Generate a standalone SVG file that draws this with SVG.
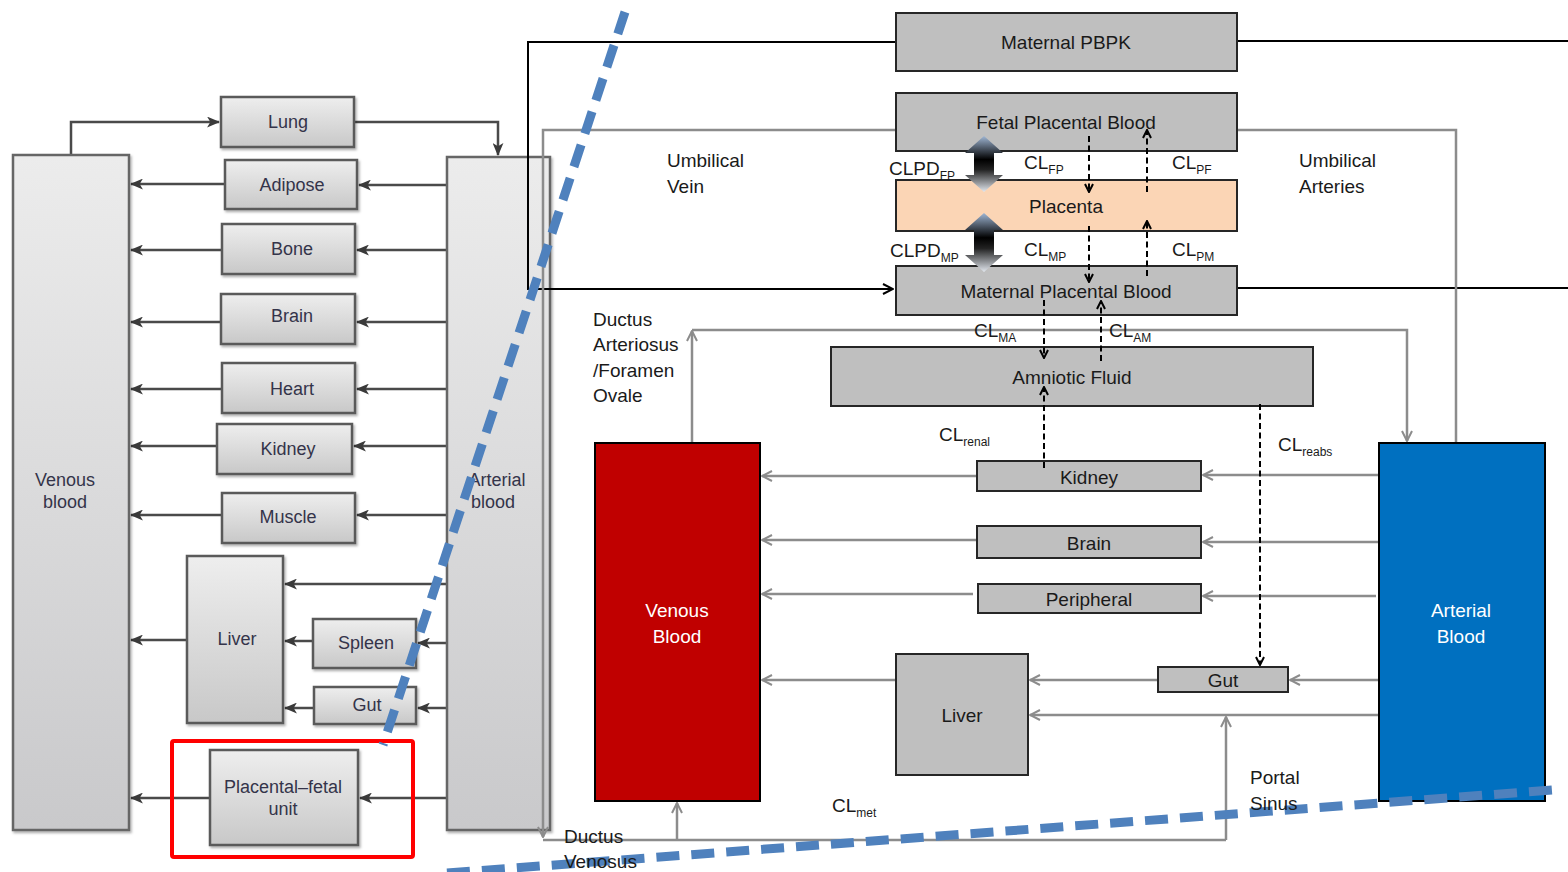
<svg xmlns="http://www.w3.org/2000/svg" width="1568" height="872" viewBox="0 0 1568 872">
<style>
.lt{font-family:"Liberation Sans",Arial,sans-serif;font-size:18px;fill:#34344a;text-anchor:middle}
.lbox{fill:url(#lg);stroke:#5a5a5a;stroke-width:2.5;filter:url(#sh)}
.lbig{fill:url(#lg2);stroke:#666;stroke-width:2.5;filter:url(#sh)}
.lc{fill:none;stroke:#4a4a4a;stroke-width:2.5;marker-end:url(#al)}
.rt{font-family:"Liberation Sans",Arial,sans-serif;font-size:19px;fill:#1a1a1a}
.rc{text-anchor:middle}
.rbox{fill:#bfbfbf;stroke:#262626;stroke-width:2}
.gc{fill:none;stroke:#8c8c8c;stroke-width:2.5;marker-end:url(#ag)}
.gl{fill:none;stroke:#8c8c8c;stroke-width:2.5}
.bc{fill:none;stroke:#000;stroke-width:2}
.dc{fill:none;stroke:#000;stroke-width:2;stroke-dasharray:6 3.5;marker-end:url(#ad)}
.blue{fill:none;stroke:#4f81bd;stroke-width:9;stroke-dasharray:23 12}
.sub{font-size:12px}
</style>
<defs>
<linearGradient id="lg" x1="0" y1="0" x2="0" y2="1"><stop offset="0" stop-color="#eeeeee"/><stop offset="1" stop-color="#c8c8c8"/></linearGradient>
<linearGradient id="lg2" x1="0" y1="0" x2="0" y2="1"><stop offset="0" stop-color="#ececec"/><stop offset="1" stop-color="#c9c9cb"/></linearGradient>
<linearGradient id="ba" x1="0" y1="0" x2="0" y2="1"><stop offset="0" stop-color="#9fb6d4"/><stop offset="0.42" stop-color="#000"/><stop offset="0.6" stop-color="#222"/><stop offset="1" stop-color="#e3e8ef"/></linearGradient>
<filter id="sh" x="-10%" y="-10%" width="130%" height="130%"><feDropShadow dx="1.5" dy="2" stdDeviation="1.2" flood-color="#000" flood-opacity="0.3"/></filter>
<marker id="al" viewBox="0 0 12 10" refX="11" refY="5" markerWidth="13" markerHeight="11" markerUnits="userSpaceOnUse" orient="auto"><path d="M0,0 L12,5 L0,10 L3,5 Z" fill="#3a3a3a"/></marker>
<marker id="ag" viewBox="0 0 12 12" refX="11" refY="6" markerWidth="12" markerHeight="12" markerUnits="userSpaceOnUse" orient="auto"><path d="M1,1 L11,6 L1,11" fill="none" stroke="#8c8c8c" stroke-width="2"/></marker>
<marker id="ab" viewBox="0 0 12 12" refX="11" refY="6" markerWidth="12" markerHeight="12" markerUnits="userSpaceOnUse" orient="auto"><path d="M1,1 L11,6 L1,11" fill="none" stroke="#000" stroke-width="2"/></marker>
<marker id="ad" viewBox="0 0 10 10" refX="9" refY="5" markerWidth="10" markerHeight="10" markerUnits="userSpaceOnUse" orient="auto"><path d="M1,1 L9,5 L1,9" fill="none" stroke="#000" stroke-width="2"/></marker>
</defs>
<rect x="0" y="0" width="1568" height="872" fill="#fff"/>

<!-- LEFT DIAGRAM -->
<g id="left-connectors">
<path class="lc" d="M71,155 V122 H219"/>
<path class="lc" d="M354,122 H498 V155"/>
<path class="lc" d="M447,185 H359"/><path class="lc" d="M225,184 H131"/>
<path class="lc" d="M447,250 H357"/><path class="lc" d="M222,250 H131"/>
<path class="lc" d="M447,322 H357"/><path class="lc" d="M221,322 H131"/>
<path class="lc" d="M447,389 H357"/><path class="lc" d="M222,389 H131"/>
<path class="lc" d="M447,446 H354"/><path class="lc" d="M217,446 H131"/>
<path class="lc" d="M447,515 H357"/><path class="lc" d="M222,515 H131"/>
<path class="lc" d="M447,584 H285"/>
<path class="lc" d="M447,643 H418"/><path class="lc" d="M313,641 H285"/>
<path class="lc" d="M447,708 H418"/><path class="lc" d="M314,708 H285"/>
<path class="lc" d="M187,640 H131"/>
<path class="lc" d="M447,798 H360"/><path class="lc" d="M210,798 H131"/>
</g>
<g id="l-venous"><rect class="lbig" x="13" y="155" width="116" height="675"/><text class="lt" x="65" y="486">Venous</text><text class="lt" x="65" y="508">blood</text></g>
<g id="l-arterial"><rect class="lbig" x="447" y="157" width="103" height="673"/><text class="lt" x="497" y="486">Arterial</text><text class="lt" x="493" y="508">blood</text></g>
<g id="l-lung"><rect class="lbox" x="221" y="97" width="133" height="50"/><text class="lt" x="288" y="128">Lung</text></g>
<g id="l-adipose"><rect class="lbox" x="225" y="160" width="132" height="49"/><text class="lt" x="292" y="191">Adipose</text></g>
<g id="l-bone"><rect class="lbox" x="222" y="224" width="133" height="50"/><text class="lt" x="292" y="255">Bone</text></g>
<g id="l-brain"><rect class="lbox" x="221" y="294" width="134" height="50"/><text class="lt" x="292" y="322">Brain</text></g>
<g id="l-heart"><rect class="lbox" x="222" y="363" width="133" height="50"/><text class="lt" x="292" y="395">Heart</text></g>
<g id="l-kidney"><rect class="lbox" x="217" y="424" width="135" height="50"/><text class="lt" x="288" y="455">Kidney</text></g>
<g id="l-muscle"><rect class="lbox" x="222" y="493" width="133" height="50"/><text class="lt" x="288" y="523">Muscle</text></g>
<g id="l-liver"><rect class="lbox" x="187" y="556" width="96" height="167"/><text class="lt" x="237" y="645">Liver</text></g>
<g id="l-spleen"><rect class="lbox" x="313" y="619" width="103" height="49"/><text class="lt" x="366" y="649">Spleen</text></g>
<g id="l-gut"><rect class="lbox" x="314" y="687" width="102" height="37"/><text class="lt" x="367" y="711">Gut</text></g>
<g id="l-placental"><rect class="lbox" x="210" y="750" width="148" height="95"/><text class="lt" x="283" y="793">Placental–fetal</text><text class="lt" x="283" y="815">unit</text></g>
<rect x="172" y="741" width="241" height="116" rx="2" fill="none" stroke="#ff0000" stroke-width="4"/>

<!-- RIGHT DIAGRAM CONNECTORS (solid) -->
<g id="connectors">
<path class="bc" d="M896,42 H528 V289 H893" marker-end="url(#ab)"/>
<path class="bc" d="M1237,41 H1568"/>
<path class="bc" d="M1237,288 H1568"/>
<path class="gc" d="M896,130 H543 V837"/>
<path class="gl" d="M543,840 H1226"/>
<path class="gc" d="M1226,840 V717"/>
<path class="gc" d="M677,840 V803"/>
<path class="gl" d="M1237,130 H1456 V443"/>
<path class="gc" d="M692,443 V331"/>
<path class="gc" d="M692,330 H1407 V441"/>
<path class="gc" d="M1379,475 H1203"/><path class="gc" d="M977,476 H762"/>
<path class="gc" d="M1379,542 H1203"/><path class="gc" d="M977,540 H762"/>
<path class="gc" d="M1376,596 H1203"/><path class="gc" d="M973,594 H762"/>
<path class="gc" d="M1379,680 H1290"/><path class="gc" d="M1158,680 H1030"/><path class="gc" d="M896,680 H762"/>
<path class="gc" d="M1379,715 H1030"/>
</g>

<!-- RIGHT DIAGRAM NODES -->
<g id="maternal-pbpk"><rect class="rbox" x="896" y="13" width="341" height="58"/><text class="rt rc" x="1066" y="49">Maternal PBPK</text></g>
<g id="fetal-placental-blood"><rect class="rbox" x="896" y="93" width="341" height="58"/><text class="rt rc" x="1066" y="129">Fetal Placental Blood</text></g>
<g id="placenta"><rect x="896" y="180" width="341" height="51" fill="#fbd5b5" stroke="#262626" stroke-width="2"/><text class="rt rc" x="1066" y="213">Placenta</text></g>
<g id="maternal-placental-blood"><rect class="rbox" x="896" y="266" width="341" height="49"/><text class="rt rc" x="1066" y="298">Maternal Placental Blood</text></g>
<g id="amniotic-fluid"><rect class="rbox" x="831" y="347" width="482" height="59"/><text class="rt rc" x="1072" y="384">Amniotic Fluid</text></g>
<g id="venous-blood"><rect x="595" y="443" width="165" height="358" fill="#c00000" stroke="#000" stroke-width="2"/><text class="rt rc" x="677" y="617" style="fill:#fff">Venous</text><text class="rt rc" x="677" y="643" style="fill:#fff">Blood</text></g>
<g id="arterial-blood"><rect x="1379" y="443" width="166" height="358" fill="#0070c0" stroke="#000" stroke-width="2"/><text class="rt rc" x="1461" y="617" style="fill:#fff">Arterial</text><text class="rt rc" x="1461" y="643" style="fill:#fff">Blood</text></g>
<g id="kidney"><rect class="rbox" x="977" y="461" width="224" height="30"/><text class="rt rc" x="1089" y="484">Kidney</text></g>
<g id="brain"><rect class="rbox" x="977" y="526" width="224" height="32"/><text class="rt rc" x="1089" y="550">Brain</text></g>
<g id="peripheral"><rect class="rbox" x="978" y="584" width="223" height="29"/><text class="rt rc" x="1089" y="606">Peripheral</text></g>
<g id="liver"><rect class="rbox" x="896" y="654" width="132" height="121"/><text class="rt rc" x="962" y="722">Liver</text></g>
<g id="gut"><rect class="rbox" x="1158" y="667" width="130" height="25"/><text class="rt rc" x="1223" y="687">Gut</text></g>

<!-- RIGHT DIAGRAM CONNECTORS (clearance, drawn over nodes) -->
<g id="clearance-connectors">
<path class="dc" d="M1089,136 V192"/>
<path class="dc" d="M1147,192 V130"/>
<path class="dc" d="M1089,226 V282"/>
<path class="dc" d="M1147,276 V221"/>
<path class="dc" d="M1044,300 V358"/>
<path class="dc" d="M1101,361 V301"/>
<path class="dc" d="M1044,468 V387"/>
<path class="dc" d="M1260,404 V665"/>
<path d="M984,136 L1003,153 L994,153 L994,175 L1003,175 L984,192 L965,175 L974,175 L974,153 L965,153 Z" fill="url(#ba)"/>
<path d="M984,213 L1003,230 L994,230 L994,255 L1003,255 L984,272 L965,255 L974,255 L974,230 L965,230 Z" fill="url(#ba)"/>
</g>

<!-- LABELS -->
<g id="labels">
<text class="rt" x="889" y="175">CLPD<tspan class="sub" dy="5">FP</tspan></text>
<text class="rt" x="1024" y="169">CL<tspan class="sub" dy="5">FP</tspan></text>
<text class="rt" x="1172" y="169">CL<tspan class="sub" dy="5">PF</tspan></text>
<text class="rt" x="890" y="257">CLPD<tspan class="sub" dy="5">MP</tspan></text>
<text class="rt" x="1024" y="256">CL<tspan class="sub" dy="5">MP</tspan></text>
<text class="rt" x="1172" y="256">CL<tspan class="sub" dy="5">PM</tspan></text>
<text class="rt" x="974" y="337">CL<tspan class="sub" dy="5">MA</tspan></text>
<text class="rt" x="1109" y="337">CL<tspan class="sub" dy="5">AM</tspan></text>
<text class="rt" x="939" y="441">CL<tspan class="sub" dy="5">renal</tspan></text>
<text class="rt" x="1278" y="451">CL<tspan class="sub" dy="5">reabs</tspan></text>
<text class="rt" x="832" y="812">CL<tspan class="sub" dy="5">met</tspan></text>
<text class="rt" x="667" y="167">Umbilical</text><text class="rt" x="667" y="193">Vein</text>
<text class="rt" x="1299" y="167">Umbilical</text><text class="rt" x="1299" y="193">Arteries</text>
<text class="rt" x="593" y="326">Ductus</text><text class="rt" x="593" y="351">Arteriosus</text><text class="rt" x="593" y="377">/Foramen</text><text class="rt" x="593" y="402">Ovale</text>
</g>

<!-- BLUE DASHED CUT LINES -->
<line class="blue" x1="625" y1="12" x2="383" y2="745"/>
<line class="blue" x1="447" y1="873" x2="1553" y2="790"/>

<g id="labels-bottom">
<text class="rt" x="1250" y="784">Portal</text><text class="rt" x="1250" y="810">Sinus</text>
<text class="rt" x="564" y="843">Ductus</text><text class="rt" x="564" y="868">Venosus</text>
</g>
</svg>
